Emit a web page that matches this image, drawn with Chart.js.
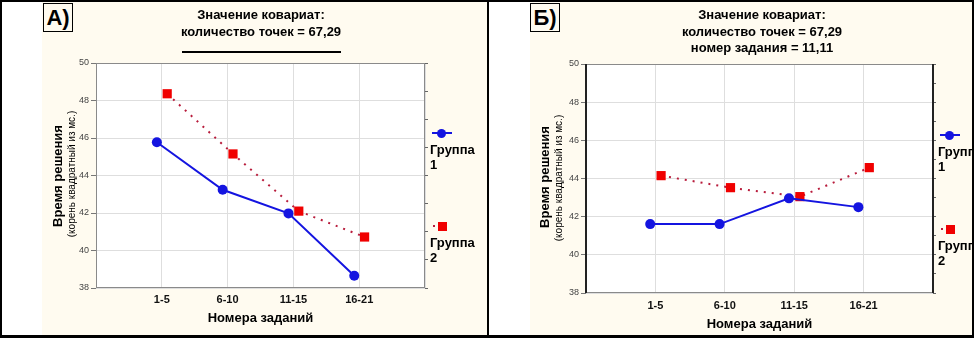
<!DOCTYPE html>
<html>
<head>
<meta charset="utf-8">
<script src="https://cdn.jsdelivr.net/npm/chart.js@4.4.1/dist/chart.umd.min.js"></script>
<style>
  body { margin: 0; width: 974px; height: 338px; position: relative; overflow: hidden; background: #fff;
         font-family: Arial, "Liberation Sans", sans-serif; color: #000; }
  .cream { position: absolute; top: 0; height: 338px; background: #fffbf0; }
  .frame { position: absolute; top: 0; height: 338px; box-sizing: border-box; border: 2px solid #000;
           border-bottom-width: 3px; z-index: 10; }
  canvas { position: absolute; top: 0; }
  .t { position: absolute; white-space: nowrap; font-weight: bold; font-size: 13px; line-height: 16px;
       transform: translate(-50%, -50%); }
  .tag { position: absolute; top: 3px; width: 28px; height: 27px; border: 1px solid #000; background: #fffbf0;
         font-weight: bold; font-size: 22px; line-height: 28px; text-align: center; }
  .rot { position: absolute; white-space: nowrap; transform: translate(-50%, -50%) rotate(-90deg); }
  .lg { position: absolute; font-weight: bold; font-size: 13px; line-height: 15px; white-space: nowrap; }
  .mk { position: absolute; }
</style>
</head>
<body>
<div class="cream" style="left:42px;width:445px"></div>
<div class="cream" style="left:530px;width:444px"></div>

<canvas id="chartA" width="487" height="338" style="left:0"></canvas>
<canvas id="chartB" width="487" height="338" style="left:487px"></canvas>

<div class="tag" style="left:43px">A)</div>
<div class="tag" style="left:530px">Б)</div>

<div class="t" style="left:261px;top:15px">Значение ковариат:</div>
<div class="t" style="left:261px;top:32px">количество точек = 67,29</div>
<div style="position:absolute;left:182px;top:51px;width:159px;height:2px;background:#000"></div>

<div class="t" style="left:762px;top:15px">Значение ковариат:</div>
<div class="t" style="left:762px;top:32px">количество точек = 67,29</div>
<div class="t" style="left:762px;top:48px">номер задания = 11,11</div>

<div class="rot" style="left:57px;top:176px;font-weight:bold;font-size:13px">Время решения</div>
<div class="rot" style="left:71px;top:174px;font-size:10px">(корень квадратный из мс.)</div>
<div class="rot" style="left:544px;top:177px;font-weight:bold;font-size:13px">Время решения</div>
<div class="rot" style="left:558px;top:178px;font-size:10px">(корень квадратный из мс.)</div>

<div id="legends"></div>

<div class="frame" style="left:0;width:489px"></div>
<div class="frame" style="left:487px;width:487px"></div>

<script>
// values
const categories = ['1-5', '6-10', '11-15', '16-21'];
const groupNames = ['Группа 1', 'Группа 2'];
const yTicksMin = 38;
const yTicksMax = 50;

const panelA_group1 = [45.77, 43.24, 41.98, 38.65];
const panelA_group2 = [48.36, 45.15, 42.10, 40.72];
const panelB_group1 = [41.61, 41.61, 42.96, 42.50];
const panelB_group2 = [44.15, 43.52, 43.05, 44.57];

const BLUE = '#1414e0';
const RED = '#f00000';
const DOT_RED = '#b81c3c';
const GRID = '#dedede';

// small horizontal nudge so the two groups don't overlap (as in the original)
const SHIFT = [-0.075, 0.082];

const framePlugin = {
    id: 'frame',
    beforeDraw(chart) {
        const a = chart.chartArea, ctx = chart.ctx;
        ctx.save();
        ctx.fillStyle = '#fff';
        ctx.fillRect(a.left, a.top, a.right - a.left, a.bottom - a.top);
        ctx.restore();
    },
    afterDraw(chart, args, opts) {
        const a = chart.chartArea, ctx = chart.ctx;
        ctx.save();
        ctx.strokeStyle = opts.color;
        ctx.lineWidth = 1;
        ctx.strokeRect(a.left + 0.5, a.top + 0.5, a.right - a.left - 1, a.bottom - a.top - 1);
        if (opts.sideWidth) {
            ctx.strokeStyle = opts.sideColor;
            ctx.lineWidth = opts.sideWidth;
            ctx.beginPath();
            ctx.moveTo(a.left, a.top); ctx.lineTo(a.left, a.bottom);
            ctx.moveTo(a.right, a.top); ctx.lineTo(a.right, a.bottom);
            ctx.stroke();
        }
        ctx.restore();
    }
};

function datasets(g1, g2) {
    return [
        {
            label: groupNames[0],
            data: g1.map((v, i) => ({ x: i + 1 + SHIFT[0], y: v })),
            borderColor: BLUE, backgroundColor: BLUE, borderWidth: 2,
            pointStyle: 'circle', pointRadius: 5, pointBorderWidth: 0,
        },
        {
            label: groupNames[1],
            data: g2.map((v, i) => ({ x: i + 1 + SHIFT[1], y: v })),
            borderColor: DOT_RED, borderWidth: 2, borderDash: [2, 6],
            pointStyle: 'rect', pointRadius: 6.5, pointBorderWidth: 0,
            pointBackgroundColor: RED,
        },
    ];
}

function makeChart(id, g1, g2, box) {
    return new Chart(document.getElementById(id), {
        type: 'line',
        data: { datasets: datasets(g1, g2) },
        plugins: [framePlugin],
        options: {
            responsive: false,
            animation: false,
            layout: { padding: { top: box.top, right: box.right, left: 0, bottom: 0 } },
            plugins: {
                legend: { display: false },
                tooltip: { enabled: false },
                frame: box.frame,
            },
            scales: {
                x: {
                    type: 'linear', min: 0, max: categories.length + 1,
                    ticks: {
                        stepSize: 1, autoSkip: false, maxRotation: 0, padding: box.xPad,
                        callback: (v) => categories[v - 1] || '',
                        font: { family: 'Arial', weight: 'bold', size: 11 }, color: '#111',
                    },
                    grid: { color: GRID, drawTicks: false },
                    border: { display: false },
                    title: {
                        display: true, text: 'Номера заданий', color: '#000',
                        font: { family: 'Arial', weight: 'bold', size: 13 },
                        padding: { top: 0, bottom: box.titlePad },
                    },
                    afterFit: (s) => { s.height = box.xHeight; },
                },
                y: {
                    min: yTicksMin, max: yTicksMax,
                    ticks: { stepSize: 2, padding: 2, font: { family: 'Arial', size: 9 }, color: '#444' },
                    grid: { color: GRID, tickLength: 5, tickColor: '#777' },
                    border: { display: false },
                    afterFit: (s) => { s.width = box.left; },
                },
                y2: {
                    position: 'right', min: yTicksMin, max: yTicksMax,
                    ticks: { display: false, stepSize: box.rightStep },
                    grid: { drawOnChartArea: false, tickLength: 3, tickColor: '#666' },
                    border: { display: false },
                    afterFit: (s) => { s.width = 0; },
                },
            },
        },
    });
}

makeChart('chartA', panelA_group1, panelA_group2, {
    top: 63, right: 62, left: 96, xHeight: 50, xPad: 5, titlePad: 12, rightStep: 1.5,
    frame: { color: '#8a8a8a' },
});
makeChart('chartB', panelB_group1, panelB_group2, {
    top: 64, right: 41, left: 99, xHeight: 45, xPad: 6, titlePad: 6, rightStep: 1,
    frame: { color: '#8a8a8a', sideWidth: 2, sideColor: '#222' },
});

// legend built from the dataset styles
function legend(x, rows) {
    const host = document.getElementById('legends');
    rows.forEach((r, i) => {
        const line = document.createElement('div');
        line.className = 'mk';
        line.style.cssText = i
            ? `left:${x + 3}px;top:${r.y - 1}px;width:2px;height:2px;background:${DOT_RED};`
            : `left:${x + 2}px;top:${r.y - 1}px;width:20px;height:2px;background:${BLUE};`;
        host.appendChild(line);
        const m = document.createElement('div');
        m.className = 'mk';
        m.style.cssText = i
            ? `left:${x + 8}px;top:${r.y - 4.5}px;width:9px;height:9px;background:${RED};`
            : `left:${x + 7}px;top:${r.y - 4.5}px;width:9px;height:9px;border-radius:50%;background:${BLUE};`;
        host.appendChild(m);
        const t = document.createElement('div');
        t.className = 'lg';
        t.style.left = x + 'px';
        t.style.top = (r.y + 9) + 'px';
        t.innerHTML = groupNames[i].replace(' ', '<br>');
        host.appendChild(t);
    });
}
legend(430, [{ y: 133 }, { y: 226 }]);
legend(938, [{ y: 135 }, { y: 229 }]);
</script>
</body>
</html>
